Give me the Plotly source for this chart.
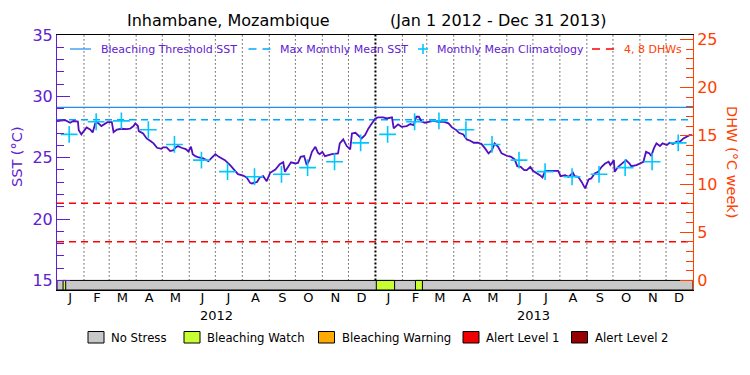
import plotly.graph_objects as go
from datetime import date, timedelta

# ---------------- data ----------------
START = date(2012, 1, 1)
END = date(2014, 1, 1)

# daily SST (day offset from Jan 1 2012, value in degC)
sst_day = [0, 9, 15, 19, 24, 25, 28, 30, 34, 38, 41, 44, 47, 51, 55, 58, 63, 65, 69, 74,
           80, 84, 88, 90, 93, 94, 99, 103, 107, 111, 115, 120, 122, 126, 130, 134, 136, 139,
           143, 148, 151, 154, 156, 159, 163, 168, 174, 178, 182, 186, 193, 199, 205, 208,
           214, 218, 222, 224, 230, 233, 237, 241, 245, 251, 256, 260, 262, 266, 269, 274,
           277, 280, 284, 287, 290, 293, 297, 300, 302, 305, 308, 312, 316, 323, 325, 329,
           333, 337, 339, 343, 346, 350, 354, 358, 362, 366, 369, 375, 379, 385, 387, 392,
           396, 402, 406, 410, 413, 416, 419, 423, 427, 433, 438, 444, 450, 454, 459, 462,
           467, 471, 475, 479, 484, 488, 492, 496, 500, 503, 507, 511, 517, 522, 526, 529,
           533, 537, 540, 544, 547, 551, 555, 558, 561, 567, 576, 579, 584, 588, 593, 595,
           599, 603, 607, 611, 614, 618, 622, 626, 630, 634, 636, 640, 641, 645, 649, 654,
           658, 660, 666, 670, 674, 677, 681, 683, 686, 689, 693, 696, 701, 704, 708, 712,
           716, 720, 724, 727, 730]
sst_val = [27.99, 28.07, 27.85, 27.99, 27.95, 27.25, 26.90, 27.10, 27.47, 27.30, 27.06, 27.80,
           27.85, 27.58, 27.74, 27.90, 27.90, 27.09, 27.30, 27.36, 27.33, 27.36, 27.58, 27.80,
           27.58, 27.17, 26.98, 26.57, 26.38, 26.17, 25.81, 25.73, 25.84, 25.84, 25.54, 25.62,
           25.81, 25.95, 25.81, 25.70, 25.51, 25.89, 25.29, 25.13, 25.02, 24.94, 24.72, 25.02,
           25.29, 25.07, 24.80, 24.40, 23.90, 23.66, 23.55, 23.39, 22.95, 22.90, 23.03, 23.39,
           23.50, 23.09, 23.77, 24.04, 24.48, 24.64, 23.85, 24.26, 24.62, 24.53, 24.58, 25.07,
           25.13, 24.40, 24.80, 25.48, 25.89, 25.40, 25.29, 25.48, 25.13, 25.21, 25.29, 25.35,
           26.17, 26.49, 25.95, 25.68, 26.98, 27.03, 26.84, 26.57, 26.84, 27.39, 27.80, 28.20,
           28.29, 28.29, 28.20, 28.29, 27.39, 27.72, 27.52, 27.58, 27.74, 27.66, 28.34, 28.34,
           27.93, 27.85, 27.93, 28.01, 27.93, 27.93, 27.80, 27.47, 27.25, 27.03, 26.90, 26.49,
           26.38, 26.22, 26.22, 26.11, 25.76, 25.35, 25.62, 26.17, 25.89, 25.35, 25.16, 25.07,
           24.86, 24.31, 24.26, 23.99, 23.99, 24.26, 23.93, 23.77, 23.58, 23.39, 23.93, 23.93,
           23.93, 23.50, 23.58, 23.44, 23.77, 23.50, 23.44, 23.03, 22.50, 23.23, 23.31, 23.72,
           23.85, 24.26, 24.53, 24.67, 24.40, 24.80, 23.85, 24.26, 24.53, 24.80, 24.53, 24.31,
           24.40, 24.53, 24.67, 25.48, 25.35, 25.13, 25.76, 26.17, 25.95, 26.17, 26.03, 26.22,
           26.11, 26.30, 26.30, 26.57, 26.76, 26.84, 26.84]

clim_month_sst = [26.90, 27.93, 28.00, 27.28, 26.08, 24.80, 23.87, 23.45, 23.65, 24.19, 24.67, 26.21]
years = [2012, 2013]
bleaching_threshold = 29.1
max_monthly_mean = 28.1
dhw_levels = [4, 8]

watch_periods = [("2012-01-08", "2012-01-11"),
                 ("2013-01-02", "2013-01-23"),
                 ("2013-02-16", "2013-02-24")]

month_letters = ["J", "F", "M", "A", "M", "J", "J", "A", "S", "O", "N", "D"]

stress_names = ["No Stress", "Bleaching Watch", "Bleaching Warning", "Alert Level 1", "Alert Level 2"]
stress_colors = ["#C8C8C8", "#C8FF32", "#FFAA00", "#F00000", "#960000"]

# ---------------- styles ----------------
PURPLE = "#6020D0"
LINE_PURPLE = "#5010C0"
ORANGE = "#FF4000"
THR_BLUE = "#1E8CF0"
MMM_BLUE = "#00A8FF"
CLIM_CYAN = "#00C8FF"
RED = "#FF0000"
FONT = "DejaVu Sans"

W, H = 750, 375
L, R, T, B = 57, 693, 35, 290


def px(x):
    return (x - L) / (R - L)


def py(y):
    return (B - y) / (B - T)


def note(text, x, y, size, color, xanchor="center", angle=0, xref="paper"):
    return dict(text=text, x=x, y=y, xref=xref, yref="paper", xanchor=xanchor, yanchor="middle",
                showarrow=False, textangle=angle, font=dict(family=FONT, size=size, color=color))


sst_x = [START + timedelta(days=d) for d in sst_day]
clim_x = [date(y, m + 1, 15) for y in years for m in range(12)]
clim_y = [clim_month_sst[m] for y in years for m in range(12)]

fig = go.Figure()

fig.add_trace(go.Scatter(x=[START, END], y=[bleaching_threshold] * 2, mode="lines",
                         line=dict(color=THR_BLUE, width=1.2), showlegend=False))
fig.add_trace(go.Scatter(x=[START, END], y=[max_monthly_mean] * 2, mode="lines",
                         line=dict(color=MMM_BLUE, width=1.5, dash="7px,5px"), showlegend=False))
for lv in dhw_levels:
    fig.add_trace(go.Scatter(x=[START, END], y=[lv] * 2, mode="lines", yaxis="y2",
                             line=dict(color=RED, width=1.5, dash="7px,5px"), showlegend=False))
fig.add_trace(go.Scatter(x=sst_x, y=sst_val, mode="lines",
                         line=dict(color=LINE_PURPLE, width=1.8), showlegend=False))
fig.add_trace(go.Scatter(x=clim_x, y=clim_y, mode="markers",
                         marker=dict(symbol="cross-thin", size=12,
                                     line=dict(color=CLIM_CYAN, width=1.6)),
                         showlegend=False))

shapes = []
# month separators
for y in years:
    for m in range(1, 13):
        d = date(y, m, 1)
        if d == START:
            continue
        yearline = (m == 1)
        shapes.append(dict(type="line", xref="x", yref="y", x0=d, x1=d, y0=15, y1=35,
                           layer="below",
                           line=dict(color="black", width=2 if yearline else 1,
                                     dash="2px,2px" if yearline else "1px,3px")))
# stress bar
BAR_BOTTOM = 14.22
shapes.append(dict(type="rect", xref="x", yref="y", x0=START, x1=END, y0=BAR_BOTTOM, y1=15,
                   fillcolor=stress_colors[0], line=dict(color="black", width=1), layer="below"))
for s, e in watch_periods:
    shapes.append(dict(type="rect", xref="x", yref="y", x0=s, x1=e, y0=BAR_BOTTOM, y1=15,
                       fillcolor=stress_colors[1], line=dict(color="black", width=1), layer="below"))

annotations = []
# title
annotations.append(note("Inhambane, Mozambique", px(228), py(21), 16, "black"))
annotations.append(note("(Jan 1 2012 - Dec 31 2013)", px(498), py(21), 16, "black"))
# axis titles
annotations.append(note("SST (°C)", px(17), py(157), 14.5, PURPLE, angle=-90))
annotations.append(note("DHW (°C week)", px(732), py(162), 14.5, ORANGE, angle=90))
# year labels
for y in years:
    annotations.append(note(str(y), date(y, 7, 2), py(315), 13, "black", xref="x"))

# top legend
LEG_Y = py(49)
shapes.append(dict(type="line", xref="paper", yref="paper", x0=px(70), x1=px(91), y0=LEG_Y, y1=LEG_Y,
                   line=dict(color=THR_BLUE, width=1.2)))
shapes.append(dict(type="line", xref="paper", yref="paper", x0=px(248.5), x1=px(272), y0=LEG_Y, y1=LEG_Y,
                   line=dict(color=MMM_BLUE, width=1.5, dash="8px,6px")))
shapes.append(dict(type="line", xref="paper", yref="paper", x0=px(418), x1=px(428), y0=LEG_Y, y1=LEG_Y,
                   line=dict(color=CLIM_CYAN, width=1.6)))
shapes.append(dict(type="line", xref="paper", yref="paper", x0=px(423), x1=px(423), y0=py(44), y1=py(54),
                   line=dict(color=CLIM_CYAN, width=1.6)))
shapes.append(dict(type="line", xref="paper", yref="paper", x0=px(592), x1=px(616), y0=LEG_Y, y1=LEG_Y,
                   line=dict(color=RED, width=1.5, dash="8px,6px")))
for txt, x0, col in [("Bleaching Threshold SST", 98.5, PURPLE), ("Max Monthly Mean SST", 278, PURPLE),
                     ("Monthly Mean Climatology", 435, PURPLE), ("4, 8 DHWs", 621.5, ORANGE)]:
    annotations.append(note(txt, px(x0), LEG_Y, 11, col, xanchor="left"))

# bottom legend
box_x = [88, 184, 318.5, 463, 571.5]
for name, col, bx in zip(stress_names, stress_colors, box_x):
    shapes.append(dict(type="rect", xref="paper", yref="paper", x0=px(bx), x1=px(bx + 16),
                       y0=py(343), y1=py(331.5), fillcolor=col, line=dict(color="black", width=1)))
    annotations.append(note(name, px(bx + 21), py(337.5), 11.7, "black", xanchor="left"))

mid_month = [date(y, m, 16) for y in years for m in range(1, 13)]
tick_text = [month_letters[m] for y in years for m in range(12)]

fig.update_layout(
    width=W, height=H,
    margin=dict(l=L, r=W - R, t=T, b=H - B, pad=0),
    paper_bgcolor="white", plot_bgcolor="white",
    font=dict(family=FONT),
    showlegend=False,
    hovermode=False,
    xaxis=dict(type="date", range=[START, END], showgrid=False, zeroline=False,
               showline=True, linecolor="black", linewidth=1, mirror=True,
               ticks="", tickmode="array", tickvals=mid_month, ticktext=tick_text,
               ticklabelstandoff=-5,
               tickfont=dict(family=FONT, size=13, color="black")),
    yaxis=dict(range=[BAR_BOTTOM, 35], tick0=0, dtick=5, showgrid=False, zeroline=False,
               showline=True, linecolor=PURPLE, linewidth=1,
               ticks="inside", ticklen=13, tickcolor=PURPLE, tickwidth=1,
               tickfont=dict(family=FONT, size=16, color=PURPLE),
               minor=dict(dtick=1, tick0=0, ticks="inside", ticklen=7, tickcolor=PURPLE, showgrid=False)),
    yaxis2=dict(range=[-0.993, 25.46], overlaying="y", side="right", tick0=0, dtick=5,
                showgrid=False, zeroline=False, showline=True, linecolor=ORANGE, linewidth=1,
                ticks="inside", ticklen=13, tickcolor=ORANGE, tickwidth=1,
                tickfont=dict(family=FONT, size=16, color=ORANGE),
                minor=dict(dtick=1, tick0=0, ticks="inside", ticklen=7, tickcolor=ORANGE, showgrid=False)),
    shapes=shapes,
    annotations=annotations,
)

fig.write_html("out.html", config={"displayModeBar": False},
               post_script="document.body.style.margin='0px';")
